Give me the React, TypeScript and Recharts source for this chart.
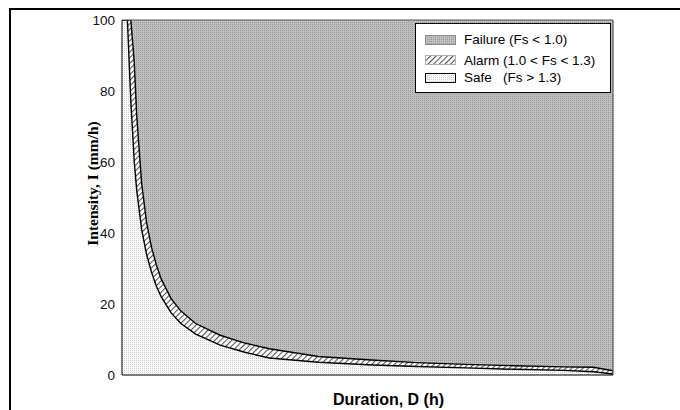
import { ComposedChart, Area, Line, XAxis, YAxis, CartesianGrid, ReferenceLine, Legend, Label } from 'recharts'

// rainfall duration (h) and the threshold intensities (mm/h) for Fs = 1.3 and Fs = 1.0
const durations = [0, 1.1, 1.8, 2.5, 3, 4, 5, 6, 7, 8, 10, 12, 15, 20, 25, 30, 40, 50, 60, 70, 80, 90, 96, 100]
const safeLimit = [100, 100, 77, 60, 52, 41, 34, 29, 25, 22, 17.5, 14.5, 11.5, 8.4, 6.4, 4.8, 3.6, 2.9, 2.4, 2.0, 1.6, 1.3, 0.9, 0.3]
const failLimit = [100, 100, 100, 88, 73, 54, 43, 36, 31, 27, 21.5, 18, 14.5, 11.2, 9.0, 7.4, 5.2, 4.3, 3.5, 3.0, 2.6, 2.3, 2.2, 1.2]
const intensityTicks = [0, 20, 40, 60, 80, 100]

const zoneNames = ['Failure (Fs < 1.0)', 'Alarm (1.0 < Fs < 1.3)', 'Safe   (Fs > 1.3)']

const rows = durations.map((d, i) => ({ d, safe: safeLimit[i], fail: failLimit[i] }))

const swatches = [
  { fill: 'url(#failure)', border: '#8a8a8a' },
  { fill: 'url(#alarm)', border: '#b0b0b0' },
  { fill: 'url(#safe)', border: '#000' },
]
const rowTops = [7.5, 28, 45.5]

function ZoneLegend() {
  return (
    <div style={{ position: 'relative', width: 194, height: 68, border: '1px solid #000', background: '#fff', fontFamily: '"Liberation Sans", Arial, sans-serif', fontSize: 13.5, color: '#000' }}>
      {zoneNames.map((name, i) => (
        <div key={name} style={{ position: 'absolute', left: 9, top: rowTops[i], height: 16, display: 'flex', alignItems: 'center', whiteSpace: 'pre' }}>
          <svg width={31} height={10} style={{ marginRight: 8 }}>
            <rect x={0.5} y={0.5} width={30} height={9} fill={swatches[i].fill} stroke={swatches[i].border} />
          </svg>
          <span>{name}</span>
        </div>
      ))}
    </div>
  )
}

export default function App() {
  return (
    <div style={{ position: 'relative', width: 680, height: 410, overflow: 'hidden', background: '#fff' }}>
      <style>{'body{margin:0}'}</style>
      <div style={{ position: 'absolute', left: 9, top: 8, width: 700, height: 420, borderTop: '2px solid #000', borderLeft: '2px solid #000' }} />
      <ComposedChart width={680} height={410} data={rows} margin={{ top: 20, right: 67, bottom: 0, left: 0 }}>
        <defs>
          <pattern id="failure" width={2} height={2} patternUnits="userSpaceOnUse">
            <rect width={2} height={2} fill="#c0c0c0" />
            <rect width={1} height={1} fill="#989898" />
          </pattern>
          <pattern id="safe" width={2} height={2} patternUnits="userSpaceOnUse">
            <rect width={2} height={2} fill="#fbfbfb" />
            <rect width={1} height={1} fill="#cfcfcf" />
          </pattern>
          <pattern id="alarm" width={4} height={4} patternUnits="userSpaceOnUse" patternTransform="rotate(45)">
            <rect width={4} height={4} fill="#fff" />
            <line x1={0.5} y1={0} x2={0.5} y2={4} stroke="#555" strokeWidth={1.2} />
          </pattern>
        </defs>
        <CartesianGrid horizontal={false} vertical={false} fill="url(#failure)" fillOpacity={1} stroke="none" />
        <XAxis type="number" dataKey="d" domain={[0, 100]} allowDataOverflow tick={false} tickLine={false} height={35} axisLine={{ stroke: '#000' }}>
          <Label
            content={({ viewBox }: any) => (
              <text x={viewBox.x + viewBox.width / 2 + 21} y={405} textAnchor="middle" fontFamily='"Liberation Sans", Arial, sans-serif' fontWeight="bold" fontSize={16} fill="#000">
                Duration, D (h)
              </text>
            )}
          />
        </XAxis>
        <YAxis type="number" domain={[0, 100]} ticks={intensityTicks} allowDataOverflow width={122} tickLine={false} tickSize={0} tickMargin={7}
          axisLine={{ stroke: '#000' }} tick={{ fill: '#111', fontSize: 13.5, fontFamily: '"Liberation Sans", Arial, sans-serif' }}>
          <Label
            content={({ viewBox }: any) => (
              <text transform={`translate(${viewBox.x + 98}, ${viewBox.y + viewBox.height / 2 - 14}) rotate(-90)`} textAnchor="middle"
                fontFamily='"Liberation Serif", "Times New Roman", serif' fontWeight="bold" fontSize={15.5} fill="#000">
                Intensity, I (mm/h)
              </text>
            )}
          />
        </YAxis>
        <Area type="linear" dataKey="safe" fill="url(#safe)" fillOpacity={1} stroke="none" isAnimationActive={false} />
        <Area type="linear" dataKey={(r: any) => [r.safe, r.fail]} fill="url(#alarm)" fillOpacity={1} stroke="none" isAnimationActive={false} />
        <Line type="linear" dataKey="safe" stroke="#000" strokeWidth={1.4} dot={false} activeDot={false} isAnimationActive={false} />
        <Line type="linear" dataKey="fail" stroke="#000" strokeWidth={1.4} dot={false} activeDot={false} isAnimationActive={false} />
        <ReferenceLine y={100} stroke="#555" strokeWidth={1.2} />
        <ReferenceLine x={100} stroke="#555" strokeWidth={1.2} />
        <Legend layout="vertical" align="center" verticalAlign="middle" content={() => <ZoneLegend />}
          wrapperStyle={{ left: 415, top: 23, width: 196, height: 70 }} />
      </ComposedChart>
    </div>
  )
}
